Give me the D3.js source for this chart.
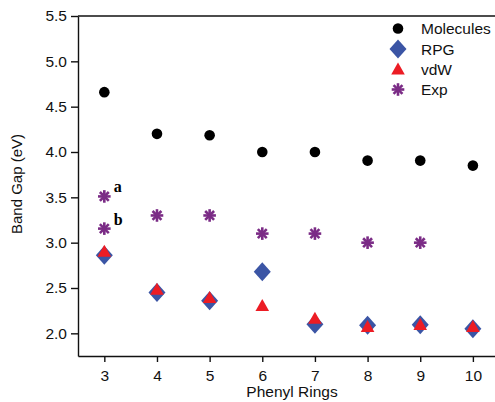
<!DOCTYPE html>
<html>
<head>
<meta charset="utf-8">
<script src="https://cdn.jsdelivr.net/npm/d3@7"></script>
<style>
  body { margin: 0; background: #fff; }
  text { font-family: "Liberation Sans", Arial, sans-serif; }
</style>
</head>
<body>
<svg id="chart" width="495" height="402"></svg>
<script>
// rings on x
const rings = [3, 4, 5, 6, 7, 8, 9, 10];
const molecules = [4.66, 4.20, 4.185, 4.00, 4.00, 3.905, 3.905, 3.85];
const rpg = [2.86, 2.45, 2.36, 2.68, 2.10, 2.09, 2.095, 2.05];
const vdw = [2.89, 2.47, 2.38, 2.29, 2.15, 2.06, 2.08, 2.06];
const expX = [3, 3, 4, 5, 6, 7, 8, 9];
const expY = [3.51, 3.155, 3.30, 3.30, 3.10, 3.10, 3.00, 3.00];
const expNotes = ['a', 'b', '', '', '', '', '', ''];
const yTicks = [2.0, 2.5, 3.0, 3.5, 4.0, 4.5, 5.0, 5.5];
const legendNames = ['Molecules', 'RPG', 'vdW', 'Exp'];

const blue = '#3b55a5', red = '#ec1c24', purple = '#7b2c86';

const svg = d3.select('#chart');
const x = d3.scaleLinear().domain([2.5, 10.42]).range([78, 495]);
const y = d3.scaleLinear().domain([1.75, 5.5]).range([356, 16]);

// axes
const axY = svg.append('g').attr('transform', 'translate(78,0)')
  .call(d3.axisLeft(y).tickValues(yTicks).tickFormat(d3.format('.1f')).tickSize(7).tickSizeOuter(0).tickPadding(4));
const axX = svg.append('g').attr('transform', 'translate(0,356)')
  .call(d3.axisBottom(x).tickValues(rings).tickSize(6).tickSizeOuter(0).tickPadding(8));
[axY, axX].forEach(a => {
  a.selectAll('path,line').attr('stroke', '#111').attr('stroke-width', 1.4);
  a.selectAll('text').attr('font-size', 15.5).attr('fill', '#111')
    .style('font-family', '"Liberation Sans", Arial, sans-serif');
});
svg.append('line').attr('x1', 78).attr('x2', 495).attr('y1', y(5.5)).attr('y2', y(5.5))
  .attr('stroke', '#111').attr('stroke-width', 1.4);

svg.append('text').text('Phenyl Rings').attr('x', 292).attr('y', 397)
  .attr('text-anchor', 'middle').attr('font-size', 15.5).attr('fill', '#111');
svg.append('text').text('Band Gap (eV)').attr('transform', 'translate(22,184) rotate(-90)')
  .attr('text-anchor', 'middle').attr('font-size', 15).attr('fill', '#111');

// marker shapes
const diamond = (cx, cy) => `M${cx},${cy - 9.5}L${cx + 8.5},${cy}L${cx},${cy + 9.5}L${cx - 8.5},${cy}Z`;
const triangle = (cx, cy) => `M${cx},${cy - 8}L${cx + 6.8},${cy + 4}L${cx - 6.8},${cy + 4}Z`;
function star(g, cx, cy) {
  const r = 6.3;
  [0, 45, 90, 135].forEach(a => {
    const t = a * Math.PI / 180;
    g.append('line').attr('x1', cx - r * Math.cos(t)).attr('y1', cy - r * Math.sin(t))
      .attr('x2', cx + r * Math.cos(t)).attr('y2', cy + r * Math.sin(t))
      .attr('stroke', purple).attr('stroke-width', 2.6);
  });
}

const pts = svg.append('g');
pts.selectAll('circle').data(molecules).enter().append('circle')
  .attr('cx', (d, i) => x(rings[i])).attr('cy', d => y(d)).attr('r', 5.3).attr('fill', '#000');
pts.selectAll('path.rpg').data(rpg).enter().append('path').attr('class', 'rpg')
  .attr('d', (d, i) => diamond(x(rings[i]), y(d))).attr('fill', blue);
pts.selectAll('path.vdw').data(vdw).enter().append('path').attr('class', 'vdw')
  .attr('d', (d, i) => triangle(x(rings[i]), y(d))).attr('fill', red);
const stars = pts.append('g');
expY.forEach((d, i) => star(stars, x(expX[i]), y(d)));
expNotes.forEach((n, i) => {
  if (!n) return;
  svg.append('text').text(n).attr('x', x(expX[i]) + 9.5).attr('y', y(expY[i]) - 4)
    .attr('font-size', 16).attr('font-weight', 'bold')
    .style('font-family', '"Liberation Serif", "Times New Roman", serif').attr('fill', '#000');
});

// legend
const lg = svg.append('g');
const ly = [28.5, 49, 69.5, 89.5];
lg.append('circle').attr('cx', 398).attr('cy', ly[0]).attr('r', 5.3).attr('fill', '#000');
lg.append('path').attr('d', diamond(398, ly[1])).attr('fill', blue);
lg.append('path').attr('d', triangle(398, ly[2] + 1)).attr('fill', red);
star(lg, 398, ly[3]);
legendNames.forEach((n, i) => {
  lg.append('text').text(n).attr('x', 421).attr('y', ly[i] + 5.5)
    .attr('font-size', 15.5).attr('fill', '#111');
});
</script>
</body>
</html>
